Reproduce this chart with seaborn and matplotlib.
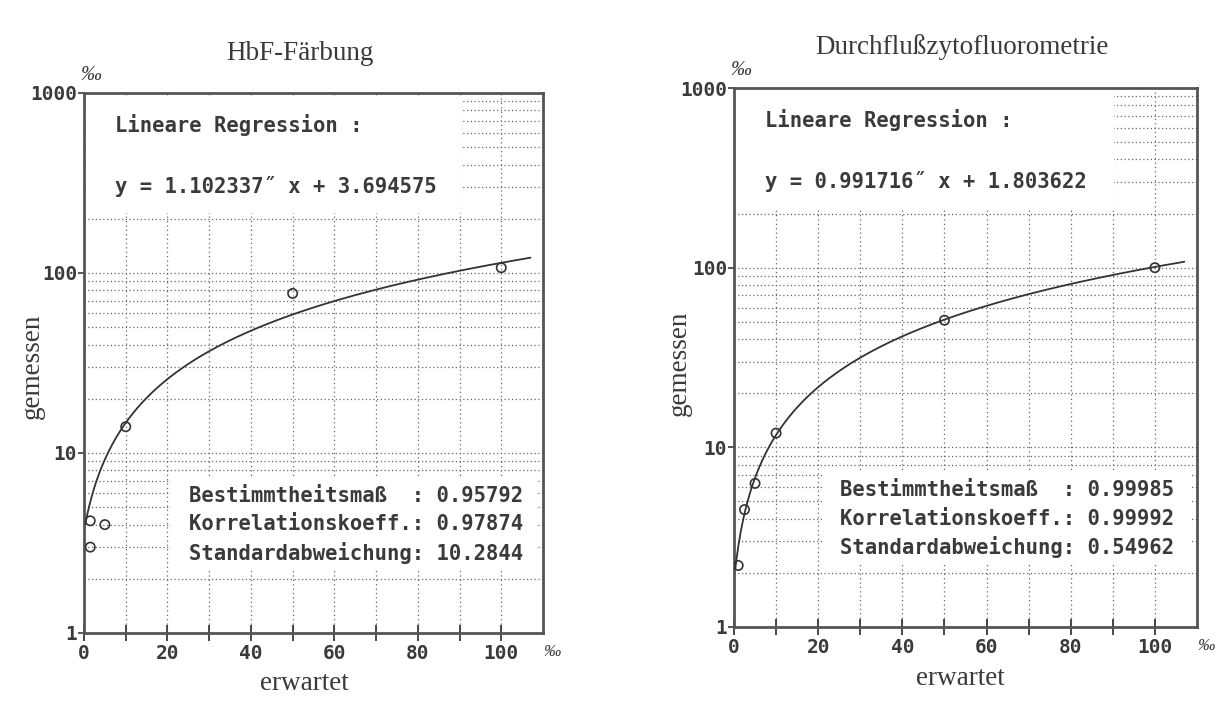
import numpy as np
import pandas as pd
import matplotlib
matplotlib.use("Agg")
import matplotlib.pyplot as plt
import seaborn as sns
from matplotlib.patches import Rectangle

sns.set_style("white")

# HbF-Färbung: erwartet / gemessen (‰)
hbf_x = [1.5, 1.5, 5, 10, 50, 100]
hbf_y = [4.2, 3.0, 4.0, 14, 77, 107]
hbf_slope, hbf_icpt = 1.102337, 3.694575
hbf_stats = ["0.95792", "0.97874", "10.2844"]

# Durchflußzytofluorometrie
dzf_x = [1, 2.5, 5, 10, 50, 100]
dzf_y = [2.2, 4.5, 6.3, 12, 51, 100]
dzf_slope, dzf_icpt = 0.991716, 1.803622
dzf_stats = ["0.99985", "0.99992", "0.54962"]

titles = ["HbF-Färbung", "Durchflußzytofluorometrie"]
x_ticks = [0, 20, 40, 60, 80, 100]
y_ticks = [1, 10, 100, 1000]

mono = "DejaVu Sans Mono"
serif = "Liberation Serif"
ink = "#3a3a3a"

fig = plt.figure(figsize=(12.18, 7.06), dpi=100)
W, H = 1218, 706
boxes = [(84, 93, 543, 633), (734, 88, 1197, 627)]
title_pos = [(0.47, 1.074), (0.492, 1.076)]
xlab_pos = [(0.48, -0.093), (0.488, -0.095)]
ylab_pos = [(-0.113, 0.494), (-0.119, 0.49)]

panels = [
    (hbf_x, hbf_y, hbf_slope, hbf_icpt, hbf_stats),
    (dzf_x, dzf_y, dzf_slope, dzf_icpt, dzf_stats),
]

for i, (px, py, b, a, st) in enumerate(panels):
    l, t, r, btm = boxes[i]
    ax = fig.add_axes([l / W, (H - btm) / H, (r - l) / W, (btm - t) / H])
    ax.set_yscale("log")
    ax.set_xlim(0, 110)
    ax.set_ylim(1, 1000)

    # dotted grid
    for gx in range(10, 110, 10):
        ax.axvline(gx, color="#666666", lw=0.9, ls=(0, (1, 2.5)), zorder=0)
    for dec in [1, 10, 100]:
        for m in range(1, 10):
            v = dec * m
            if v <= 1:
                continue
            ax.axhline(v, color="#666666", lw=0.9, ls=(0, (1, 2.0)), zorder=0)

    # white areas behind the text blocks
    ax.add_patch(Rectangle((0.006, 0.778), 0.815, 0.215, transform=ax.transAxes,
                           facecolor="white", edgecolor="none", zorder=1))
    ax.add_patch(Rectangle((0.19, 0.12), 0.795, 0.168, transform=ax.transAxes,
                           facecolor="white", edgecolor="none", zorder=1))

    # regression curve
    fx = np.linspace(0.3, 107, 400)
    line = pd.DataFrame({"x": fx, "y": b * fx + a})
    sns.lineplot(data=line, x="x", y="y", ax=ax, color="#333333", lw=1.3, zorder=3)

    pts = pd.DataFrame({"x": px, "y": py})
    sns.scatterplot(data=pts, x="x", y="y", ax=ax, marker="o", s=45,
                    facecolor="none", edgecolor="#333333", linewidth=1.2, zorder=4)

    tkw = dict(transform=ax.transAxes, family=mono, weight="bold", fontsize=14.8,
               color=ink, va="center", zorder=5)
    ax.text(0.068, 0.94, "Lineare Regression :", **tkw)
    ax.text(0.068, 0.826, f"y = {b:.6f}\u02dd x + {a:.6f}", **tkw)
    labels = ["Bestimmtheitsmaß  ", "Korrelationskoeff.", "Standardabweichung"]
    for k, (lab, val) in enumerate(zip(labels, st)):
        ax.text(0.228, 0.254 - k * 0.053, f"{lab}: {val}", **tkw)

    ax.set_xticks(range(0, 101, 10))
    ax.set_xticklabels([str(v) if v in x_ticks else "" for v in range(0, 101, 10)])
    ax.set_yticks(y_ticks)
    ax.set_yticklabels([str(v) for v in y_ticks])
    ax.yaxis.set_minor_locator(matplotlib.ticker.NullLocator())
    ax.tick_params(axis="x", direction="inout", length=12, width=1.3, color=ink,
                   labelsize=14, pad=2, bottom=True)
    ax.tick_params(axis="y", direction="out", length=4, width=1.2, color=ink,
                   labelsize=14, pad=1, left=True)
    for lab in ax.get_xticklabels() + ax.get_yticklabels():
        lab.set_family(mono)
        lab.set_weight("bold")
        lab.set_color(ink)
    for sp in ax.spines.values():
        sp.set_color("#555555")
        sp.set_linewidth(2.0)

    ax.set_xlabel("")
    ax.set_ylabel("")
    ax.text(*xlab_pos[i], "erwartet", transform=ax.transAxes, family=serif,
            fontsize=19.5, color=ink, ha="center", va="center")
    ax.text(*ylab_pos[i], "gemessen", transform=ax.transAxes, family=serif,
            fontsize=19.5, color=ink, ha="center", va="center", rotation=90)
    ax.text(*title_pos[i], titles[i], transform=ax.transAxes, family=serif,
            fontsize=19.5, color=ink, ha="center", va="center")

    ax.text(0.015, 1.015, "\u2030", transform=ax.transAxes, family=serif,
            style="italic", fontsize=15, color=ink, ha="center", va="bottom")
    ax.text(1.002, -0.02, "\u2030", transform=ax.transAxes, family=serif,
            style="italic", fontsize=12.5, color=ink, ha="left", va="top")

fig.savefig("out.png", dpi=100, facecolor="white")
